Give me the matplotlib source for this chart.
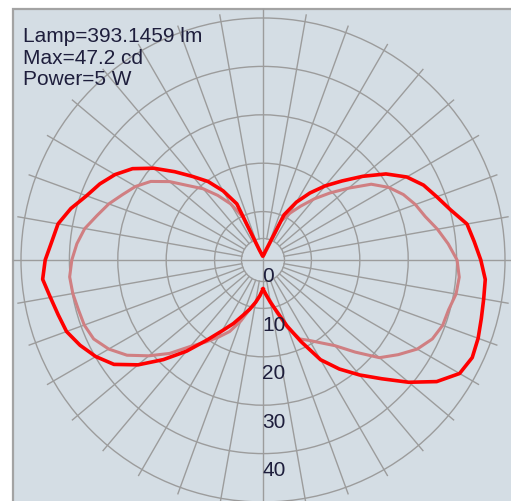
import numpy as np
import matplotlib
matplotlib.use("Agg")
import matplotlib.pyplot as plt
from matplotlib.patches import Circle, Rectangle

# gamma angles (deg, 0 = straight down) and candela values
gamma = np.arange(0, 181, 5)
c0 = [6.0, 7.2, 8.9, 11.0, 14.5, 18.6, 23.8, 27.5, 31.0, 34.7, 39.3, 43.8, 46.9,
      47.7, 47.3, 46.7, 46.3, 46.1, 45.0, 43.8, 42.8, 40.1, 38.2, 36.6, 34.3,
      31.0, 26.9, 23.1, 20.0, 16.9, 13.8, 10.3, 3.1, 1.9, 1.2, 1.0, 0.8]
c180 = [6.0, 7.4, 8.9, 10.5, 12.2, 14.5, 16.9, 20.2, 24.6, 29.1, 33.7, 37.6, 39.9,
        41.7, 43.2, 43.8, 44.6, 45.7, 45.0, 43.8, 43.0, 41.1, 38.8, 37.2, 35.3,
        32.9, 29.5, 25.8, 22.5, 19.8, 16.5, 12.8, 2.3, 1.4, 1.0, 0.8, 0.8]
c90 = [6.0, 7.2, 8.5, 11.4, 14.9, 18.0, 19.2, 20.9, 23.1, 26.9, 31.4, 34.1, 36.8,
       38.6, 39.5, 39.7, 40.5, 40.7, 40.1, 38.4, 36.6, 34.7, 33.5, 32.0, 30.0,
       27.3, 23.1, 19.6, 16.5, 13.6, 11.2, 8.9, 2.1, 1.4, 1.0, 0.8, 0.8]
c270 = [6.0, 7.4, 8.9, 10.5, 13.4, 16.3, 18.4, 20.7, 23.3, 27.3, 30.8, 34.3, 36.8,
        38.6, 39.3, 39.5, 39.9, 40.1, 39.5, 38.6, 37.4, 35.5, 33.9, 32.0, 30.4,
        28.3, 25.2, 21.7, 19.2, 16.3, 13.4, 9.7, 2.1, 1.4, 1.0, 0.8, 0.8]

rings = [10, 20, 30, 40, 50]
ring_labels = ["0", "10", "20", "30", "40"]
info = ["Lamp=393.1459 lm", "Max=47.2 cd", "Power=5 W"]

W, H = 511, 502
cx, cy = 263, 261      # centre in pixels
scale = 4.84           # pixels per cd

fig = plt.figure(figsize=(W / 100, H / 100), dpi=100)
ax = fig.add_axes([0, 0, 1, 1])
ax.set_xlim(-cx / scale, (W - cx) / scale)
ax.set_ylim(-(H - cy) / scale, cy / scale)
ax.axis("off")

# panel
left = (13 - cx) / scale
top = (cy - 10) / scale
ax.add_patch(Rectangle((left, -80), 150, top + 80, facecolor="#d4dde4",
                       edgecolor="#a3a3a3", lw=1.6, zorder=0))

grid_c = "#9c9c9c"
r_in = 21.5 / scale
r_out = 51.4
for r in rings:
    ax.add_patch(Circle((0, 0), r, fill=False, ec=grid_c, lw=1.0, zorder=1))
ax.add_patch(Circle((0, 0), r_in, fill=False, ec=grid_c, lw=1.0, zorder=1))
for a in range(0, 360, 10):
    t = np.radians(a)
    if a % 90 == 0:
        continue
    ax.plot([r_in * np.sin(t), r_out * np.sin(t)], [-r_in * np.cos(t), -r_out * np.cos(t)],
            color=grid_c, lw=1.0, zorder=1)
ax.plot([left, 80], [0, 0], color=grid_c, lw=1.0, zorder=1)
ax.plot([0, 0], [-80, top], color=grid_c, lw=1.0, zorder=1)


def loop(right, lft):
    g = np.radians(gamma)
    right = np.array(right)
    lft = np.array(lft)
    x = np.concatenate([right * np.sin(g), -(lft * np.sin(g))[::-1]])
    y = np.concatenate([-right * np.cos(g), (-lft * np.cos(g))[::-1]])
    return np.append(x, x[0]), np.append(y, y[0])


x, y = loop(c90, c270)
ax.plot(x, y, color="#d07f82", lw=2.2, zorder=3, solid_joinstyle="round")
x, y = loop(c0, c180)
ax.plot(x, y, color="#ff0000", lw=2.6, zorder=4, solid_joinstyle="round")

font = dict(family="Liberation Sans", size=15, color="#1e1e3c")
for i, lab in enumerate(ring_labels):
    ax.text(-0.2, -(i * 10) - 21.5 / scale, lab, ha="left", va="baseline", zorder=5, **font)

for i, s in enumerate(info):
    fig.text(23 / W, 1 - (42 + i * 21.5) / H, s, ha="left", va="baseline", **font)

fig.savefig("out.png", dpi=100, facecolor="white")
